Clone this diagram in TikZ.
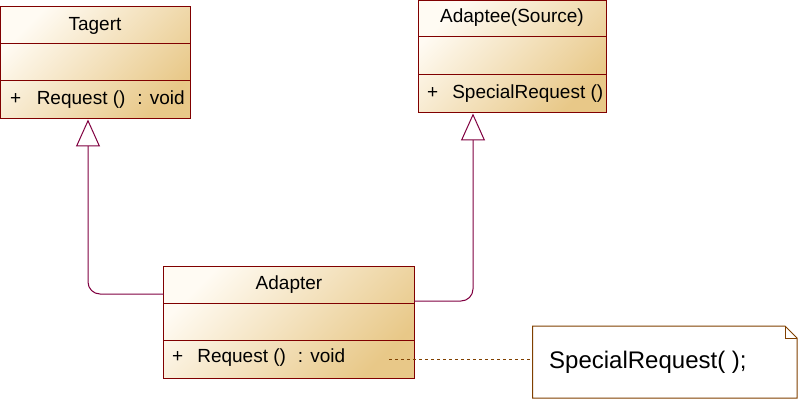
\documentclass[tikz,border=0pt]{standalone}
\usepackage{fontspec}
\setmainfont{Liberation Sans}
\usetikzlibrary{arrows.meta,calc}
\definecolor{boxline}{HTML}{800000}
\definecolor{conn}{HTML}{800040}
\definecolor{notebrown}{HTML}{804000}
\definecolor{lightfill}{HTML}{FFFBF3}
\definecolor{tanfill}{HTML}{E8C888}
\tikzset{
  classbox/.style={draw=boxline, line width=1pt, top color=lightfill, bottom color=tanfill, shading angle=45},
  sepline/.style={draw=boxline, line width=1pt},
  clsname/.style={inner sep=0pt, font=\fontsize{19}{22}\selectfont},
  optext/.style={inner sep=0pt, anchor=west, font=\fontsize{19}{22}\selectfont},
  inherit/.style={draw=conn, line width=1pt, rounded corners=12pt, -{Triangle[open, length=27pt, width=24pt, fill=white]}},
  notelink/.style={draw=notebrown, line width=1pt, dash pattern=on 3pt off 3pt},
  notebox/.style={draw=notebrown, line width=1pt, fill=white}
}
\begin{document}
\begin{tikzpicture}[x=1pt,y=-1pt]
\useasboundingbox (0,0) rectangle (800,406);
% Tagert
\path[classbox] (0.5,7) rectangle (190,119);
\node (tagert) at (95.25,63) [minimum width=189.5pt, minimum height=112pt, inner sep=0pt] {};
\draw[sepline] (0.5,44) -- (190,44);
\draw[sepline] (0.5,81) -- (190,81);
\node[clsname] (tname) at (95,25.5) {Tagert};
\node[optext] (top) at (10,100) {+\hspace{15.5pt}Request ()\hspace{12pt}: void};
% Adaptee
\path[classbox] (418.5,0.5) rectangle (606,113);
\node (adaptee) at (512.25,56.75) [minimum width=187.5pt, minimum height=112.5pt, inner sep=0pt] {};
\draw[sepline] (418.5,37) -- (606,37);
\draw[sepline] (418.5,75) -- (606,75);
\node[clsname] (aname) at (512,18) {Adaptee(Source)};
\node[optext] (aop) at (427,93.5) {+\hspace{14pt}SpecialRequest ()};
% Adapter
\path[classbox] (163.5,266.5) rectangle (414,378.5);
\node (adapter) at (288.75,322.5) [minimum width=250.5pt, minimum height=112pt, inner sep=0pt] {};
\draw[sepline] (163.5,303) -- (414,303);
\draw[sepline] (163.5,340) -- (414,340);
\node[clsname] (adname) at (289,284.5) {Adapter};
\node[optext] (adop) at (172,358) {+\hspace{14pt}Request ()\hspace{12pt}: void};
% Note
\path[notebox] (532.5,326) -- (785,326) -- (797,338) -- (797,398) -- (532.5,398) -- cycle;
\draw[notebrown, line width=1pt] (785,326) -- (785,338) -- (797,338);
\node (note) at (664.75,362) [minimum width=264.5pt, minimum height=72pt, inner sep=0pt] {};
\node[inner sep=0pt, anchor=west, font=\fontsize{24}{28}\selectfont] (notetext) at (549,362) {SpecialRequest( );};
% connectors
\coordinate (adl) at (163.5,294);
\coordinate (tgb) at (88,119.5);
\coordinate (adr) at (414,301);
\coordinate (aeb) at (473,113.5);
\coordinate (dstart) at (389,359);
\draw[inherit] (adl) -| (tgb);
\draw[inherit] (adr) -| (aeb);
\draw[notelink] (dstart) -- (dstart -| note.west);
\end{tikzpicture}
\end{document}
